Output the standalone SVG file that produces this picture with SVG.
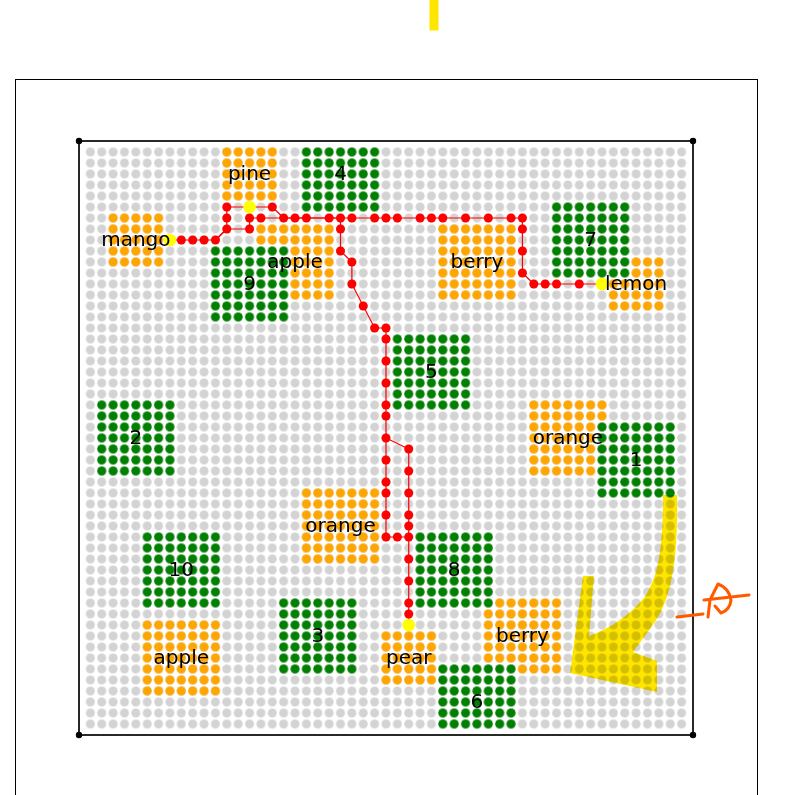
<svg xmlns="http://www.w3.org/2000/svg" width="787" height="795" viewBox="0 0 787 795">
<style>
.lbl{font-family:'DejaVu Sans',sans-serif;font-size:20px;fill:#000;text-anchor:middle}
.og{fill:url(#po)}
.gr{fill:url(#pgr)}
.rd{fill:#ff0000}
.yl{fill:#ffff00}
.pl{fill:none;stroke:#ff0000;stroke-width:1.2;stroke-linejoin:round}
.hand{fill:none;stroke:#ff5a00;stroke-width:3;stroke-linecap:round;stroke-linejoin:round}
</style>
<defs>
<pattern id="pg" patternUnits="userSpaceOnUse" x="84.685" y="146.5" width="11.37" height="11"><circle cx="5.685" cy="5.5" r="4.5" fill="#d3d3d3"/></pattern>
<pattern id="po" patternUnits="userSpaceOnUse" x="84.685" y="146.5" width="11.37" height="11"><circle cx="5.685" cy="5.5" r="4.5" fill="#ffa500"/></pattern>
<pattern id="pgr" patternUnits="userSpaceOnUse" x="84.685" y="146.5" width="11.37" height="11"><circle cx="5.685" cy="5.5" r="4.5" fill="#008000"/></pattern>
</defs>
<rect width="787" height="795" fill="#ffffff"/>
<rect x="15.5" y="79.5" width="742" height="760" fill="none" stroke="#000" stroke-width="1"/>
<rect x="429.5" y="0" width="9" height="30.5" fill="#ffe600"/>
<g id="grid">
<rect x="84.685" y="146.5" width="602.61" height="583" fill="url(#pg)"/>
</g>
<g id="connectors">
<polyline class="pl" points="169.96,240 215.44,240 226.81,229 226.81,207 249.55,207"/>
<polyline class="pl" points="215.44,240 226.81,229 249.55,229 249.55,218 522.43,218 522.43,273 533.8,284 602.02,284"/>
<polyline class="pl" points="249.55,207 272.29,207 283.66,218 340.51,218 340.51,251 351.88,262 351.88,284 363.25,306 374.62,328 385.99,328 385.99,438 408.73,449 408.73,625"/>
<polyline class="pl" points="385.99,438 385.99,537 408.73,537"/>
<g class="rd">
<circle cx="181.33" cy="240" r="4.5"/><circle cx="192.7" cy="240" r="4.5"/><circle cx="204.07" cy="240" r="4.5"/><circle cx="215.44" cy="240" r="4.5"/>
<circle cx="226.81" cy="207" r="4.5"/><circle cx="226.81" cy="218" r="4.5"/><circle cx="226.81" cy="229" r="4.5"/>
<circle cx="249.55" cy="218" r="4.5"/><circle cx="260.92" cy="218" r="4.5"/><circle cx="249.55" cy="229" r="4.5"/><circle cx="272.29" cy="207" r="4.5"/>
<circle cx="283.66" cy="218" r="4.5"/><circle cx="295.03" cy="218" r="4.5"/><circle cx="306.4" cy="218" r="4.5"/><circle cx="329.14" cy="218" r="4.5"/><circle cx="340.51" cy="218" r="4.5"/><circle cx="351.88" cy="218" r="4.5"/><circle cx="374.62" cy="218" r="4.5"/><circle cx="385.99" cy="218" r="4.5"/><circle cx="397.36" cy="218" r="4.5"/><circle cx="420.1" cy="218" r="4.5"/><circle cx="431.47" cy="218" r="4.5"/><circle cx="442.84" cy="218" r="4.5"/><circle cx="465.58" cy="218" r="4.5"/><circle cx="488.32" cy="218" r="4.5"/><circle cx="511.06" cy="218" r="4.5"/><circle cx="522.43" cy="218" r="4.5"/>
<circle cx="522.43" cy="229" r="4.5"/><circle cx="522.43" cy="251" r="4.5"/><circle cx="522.43" cy="273" r="4.5"/>
<circle cx="533.8" cy="284" r="4.5"/><circle cx="545.17" cy="284" r="4.5"/><circle cx="556.54" cy="284" r="4.5"/><circle cx="579.28" cy="284" r="4.5"/>
<circle cx="340.51" cy="229" r="4.5"/><circle cx="340.51" cy="251" r="4.5"/>
<circle cx="351.88" cy="262" r="4.5"/><circle cx="351.88" cy="284" r="4.5"/><circle cx="363.25" cy="306" r="4.5"/><circle cx="374.62" cy="328" r="4.5"/><circle cx="385.99" cy="328" r="4.5"/>
<circle cx="385.99" cy="339" r="4.5"/><circle cx="385.99" cy="361" r="4.5"/><circle cx="385.99" cy="383" r="4.5"/><circle cx="385.99" cy="405" r="4.5"/><circle cx="385.99" cy="416" r="4.5"/><circle cx="385.99" cy="438" r="4.5"/><circle cx="385.99" cy="460" r="4.5"/><circle cx="385.99" cy="482" r="4.5"/><circle cx="385.99" cy="493" r="4.5"/><circle cx="385.99" cy="515" r="4.5"/><circle cx="385.99" cy="537" r="4.5"/>
<circle cx="397.36" cy="537" r="4.5"/>
<circle cx="408.73" cy="449" r="4.5"/><circle cx="408.73" cy="471" r="4.5"/><circle cx="408.73" cy="493" r="4.5"/><circle cx="408.73" cy="515" r="4.5"/><circle cx="408.73" cy="526" r="4.5"/><circle cx="408.73" cy="537" r="4.5"/><circle cx="408.73" cy="559" r="4.5"/><circle cx="408.73" cy="581" r="4.5"/><circle cx="408.73" cy="603" r="4.5"/><circle cx="408.73" cy="614" r="4.5"/>
</g>
<g class="yl">
<circle cx="169.96" cy="240" r="6.3"/><circle cx="249.55" cy="207" r="6.3"/><circle cx="602.02" cy="284" r="6.3"/><circle cx="408.73" cy="625" r="6.3"/>
</g>
</g>
<g id="n4"><rect class="gr" x="300.715" y="146.5" width="79.59" height="66"/><text class="lbl" x="340.51" y="180">4</text></g>
<g id="n9"><rect class="gr" x="209.755" y="245.5" width="79.59" height="77"/><text class="lbl" x="249.55" y="290">9</text></g>
<g id="n7"><rect class="gr" x="550.855" y="201.5" width="79.59" height="77"/><text class="lbl" x="590.65" y="246">7</text></g>
<g id="n5"><rect class="gr" x="391.675" y="333.5" width="79.59" height="77"/><text class="lbl" x="431.47" y="378">5</text></g>
<g id="n2"><rect class="gr" x="96.055" y="399.5" width="79.59" height="77"/><text class="lbl" x="135.85" y="444">2</text></g>
<g id="n1"><rect class="gr" x="596.335" y="421.5" width="79.59" height="77"/><text class="lbl" x="636.13" y="466">1</text></g>
<g id="n10"><rect class="gr" x="141.535" y="531.5" width="79.59" height="77"/><text class="lbl" x="181.33" y="576">10</text></g>
<g id="n8"><rect class="gr" x="414.415" y="531.5" width="79.59" height="77"/><text class="lbl" x="454.21" y="576">8</text></g>
<g id="n3"><rect class="gr" x="277.975" y="597.5" width="79.59" height="77"/><text class="lbl" x="317.77" y="642">3</text></g>
<g id="n6"><rect class="gr" x="437.155" y="663.5" width="79.59" height="66"/><text class="lbl" x="476.95" y="708">6</text></g>
<g id="pine"><rect class="og" x="221.125" y="146.5" width="56.85" height="55"/><text class="lbl" x="249.55" y="180">pine</text></g>
<g id="mango"><rect class="og" x="107.425" y="212.5" width="56.85" height="55"/><text class="lbl" x="135.85" y="246">mango</text></g>
<g id="apple-top"><path class="og" d="M255.235,223.5H334.825V300.5H289.345V245.5H255.235Z"/><text class="lbl" x="295.03" y="268">apple</text></g>
<g id="berry-top"><rect class="og" x="437.155" y="223.5" width="79.59" height="77"/><text class="lbl" x="476.95" y="268">berry</text></g>
<g id="lemon"><path class="og" d="M630.445,256.5H664.555V311.5H607.705V278.5H630.445Z"/><text class="lbl" x="636.13" y="290">lemon</text></g>
<g id="orange-right"><path class="og" d="M528.115,399.5H607.705V421.5H596.335V476.5H528.115Z"/><text class="lbl" x="567.91" y="444">orange</text></g>
<g id="orange-mid"><rect class="og" x="300.715" y="487.5" width="79.59" height="77"/><text class="lbl" x="340.51" y="532">orange</text></g>
<g id="pear"><rect class="og" x="380.305" y="630.5" width="56.85" height="55"/><text class="lbl" x="408.73" y="664">pear</text></g>
<g id="berry-bottom"><path class="og" d="M494.005,597.5H562.225V674.5H516.745V663.5H482.635V608.5H494.005Z"/><text class="lbl" x="522.43" y="642">berry</text></g>
<g id="apple-bottom"><rect class="og" x="141.535" y="619.5" width="79.59" height="77"/><text class="lbl" x="181.33" y="664">apple</text></g>
<g id="frame">
<rect x="79" y="141" width="614" height="594" fill="none" stroke="#111" stroke-width="1.8"/>
<circle cx="79" cy="141" r="3.2" fill="#000"/><circle cx="693" cy="141" r="3.2" fill="#000"/><circle cx="79" cy="735" r="3.2" fill="#000"/><circle cx="693" cy="735" r="3.2" fill="#000"/>
</g>
<path d="M663,495 L677,495 C678,560 672,600 652,626 L633,652 L657,661 L657,692 L570,673 L583,576 L594,576 L589,636 Q622,624 644,598 C658,578 663,550 663,495 Z" fill="#ffe600" style="mix-blend-mode:multiply"/>
<path class="hand" d="M677,617 L703,614 M704,600 L749,595 M708,617 L710,600 L718,584 Q729,588 731,600 Q730,610 721,613 L715,606"/>
</svg>
